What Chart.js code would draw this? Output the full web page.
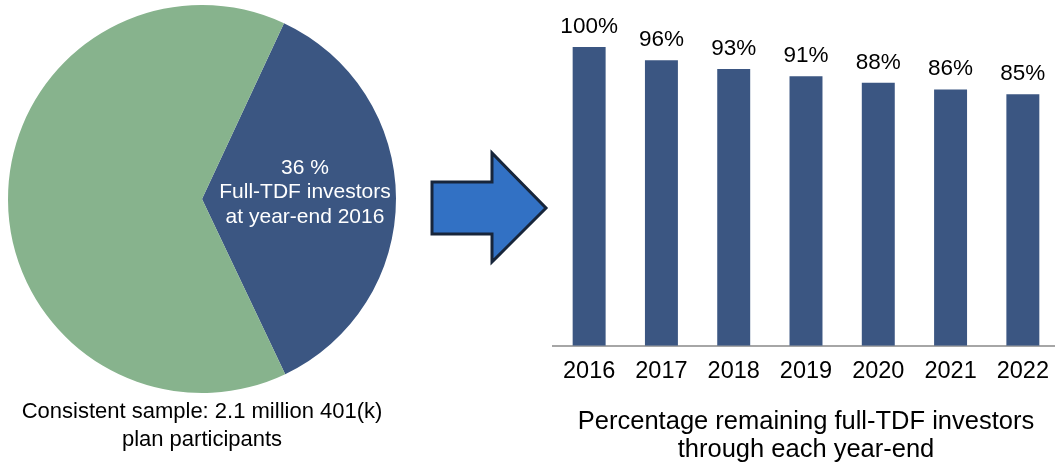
<!DOCTYPE html>
<html>
<head>
<meta charset="utf-8">
<script src="https://cdn.jsdelivr.net/npm/chart.js@4"></script>
<style>
  html, body { margin: 0; padding: 0; background: #fff; overflow: hidden; }
  body { width: 1055px; height: 465px; position: relative; }
  #pieBox { position: absolute; left: 0; top: 0; width: 416px; height: 465px; }
  #barBox { position: absolute; left: 540px; top: 0; width: 526px; height: 465px; }
  #arrow { position: absolute; left: 0; top: 0; }
</style>
</head>
<body>
<div id="pieBox"><canvas id="pieChart"></canvas></div>
<svg id="arrow" width="1055" height="465">
  <polygon points="432,182 492,182 492,153 546,208 492,262 492,234 432,234"
           fill="#3271C4" stroke="#17253A" stroke-width="3" stroke-linejoin="miter"/>
</svg>
<div id="barBox"><canvas id="barChart"></canvas></div>

<script>
// Pie data
var pieLabels = ['Full-TDF investors', 'Other participants'];
var pieValues = [36, 64];
var pieText = ['36 %', 'Full-TDF investors', 'at year-end 2016'];

// Bar data
var years = ['2016', '2017', '2018', '2019', '2020', '2021', '2022'];
var remaining = [100, 95.6, 92.6, 90.2, 88.0, 85.8, 84.2];
var remainingLabels = ['100%', '96%', '93%', '91%', '88%', '86%', '85%'];

var navy = '#3B5682';
var green = '#87B38D';
var fontFamily = '"Liberation Sans", Arial, sans-serif';

Chart.defaults.font.family = fontFamily;
Chart.defaults.color = '#000';

// Text inside the navy slice
var sliceText = {
  id: 'sliceText',
  afterDatasetsDraw: function (chart) {
    var arc = chart.getDatasetMeta(0).data[0];
    var p = arc.tooltipPosition();
    var ctx = chart.ctx;
    ctx.save();
    ctx.fillStyle = '#fff';
    ctx.font = '21px ' + fontFamily;
    ctx.textAlign = 'center';
    ctx.textBaseline = 'middle';
    var offsets = [-30, -6, 19];
    pieText.forEach(function (t, i) {
      ctx.fillText(t, p.x + 6, p.y + offsets[i]);
    });
    ctx.restore();
  }
};

// Labels above bars
var barText = {
  id: 'barText',
  afterDatasetsDraw: function (chart) {
    var ctx = chart.ctx;
    ctx.save();
    ctx.fillStyle = '#000';
    ctx.font = '22.5px ' + fontFamily;
    ctx.textAlign = 'center';
    ctx.textBaseline = 'alphabetic';
    chart.getDatasetMeta(0).data.forEach(function (bar, i) {
      ctx.fillText(remainingLabels[i], bar.x, bar.y - 14);
    });
    ctx.restore();
  }
};

new Chart(document.getElementById('pieChart').getContext('2d'), {
  type: 'pie',
  data: {
    labels: pieLabels,
    datasets: [{
      data: pieValues,
      backgroundColor: [navy, green],
      borderWidth: 0
    }]
  },
  options: {
    responsive: true,
    maintainAspectRatio: false,
    animation: false,
    rotation: 25,
    layout: { padding: { left: 5, right: 17, top: 5, bottom: 5 } },
    plugins: {
      legend: { display: false },
      tooltip: { enabled: false },
      title: {
        display: true,
        position: 'bottom',
        text: ['Consistent sample: 2.1 million 401(k)', 'plan participants'],
        color: '#000',
        font: { size: 22, weight: 'normal', lineHeight: 1.273 },
        padding: { top: 5, bottom: 6 }
      }
    }
  },
  plugins: [sliceText]
});

new Chart(document.getElementById('barChart').getContext('2d'), {
  type: 'bar',
  data: {
    labels: years,
    datasets: [{
      data: remaining,
      backgroundColor: navy,
      borderWidth: 0,
      barPercentage: 0.456,
      categoryPercentage: 1
    }]
  },
  options: {
    responsive: true,
    maintainAspectRatio: false,
    animation: false,
    layout: { padding: { left: 13, right: 7, top: 47, bottom: 1 } },
    plugins: {
      legend: { display: false },
      tooltip: { enabled: false }
    },
    scales: {
      y: {
        display: false,
        min: 0,
        max: 100
      },
      x: {
        grid: { display: false, drawTicks: false },
        border: { display: true, color: '#A6A6A6', width: 2 },
        ticks: {
          color: '#000',
          padding: 12,
          font: { size: 23.5 }
        },
        title: {
          display: true,
          text: ['Percentage remaining full-TDF investors', 'through each year-end'],
          color: '#000',
          font: { size: 25.5, lineHeight: 1.1 },
          padding: { top: 10, bottom: 0 }
        }
      }
    }
  },
  plugins: [barText]
});
</script>
</body>
</html>
